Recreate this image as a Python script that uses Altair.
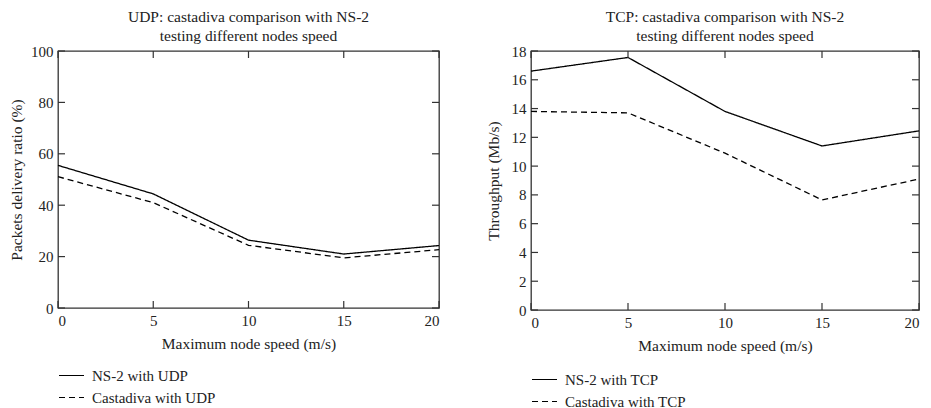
import altair as alt
import pandas as pd

speeds = [0, 5, 10, 15, 20]
udp_ns2 = [55.5, 44.4, 26.4, 21.0, 24.3]
udp_cast = [51.1, 41.0, 24.4, 19.5, 22.7]
tcp_ns2 = [16.6, 17.55, 13.8, 11.4, 12.45]
tcp_cast = [13.8, 13.7, 10.9, 7.65, 9.1]

x_ticks = [0, 5, 10, 15, 20]
udp_y_ticks = [0, 20, 40, 60, 80, 100]
tcp_y_ticks = [0, 2, 4, 6, 8, 10, 12, 14, 16, 18]

udp_series = ["NS-2 with UDP", "Castadiva with UDP"]
tcp_series = ["NS-2 with TCP", "Castadiva with TCP"]

FONT = "Liberation Serif"
TXT = "#222222"
FRAME = "#333333"
TICK = 7


def panel(series_names, a, b, yticks, ymax, title_lines, ytitle, W, H, legend_y, ytitle_pad):
    df = pd.DataFrame({
        "speed": speeds * 2,
        "value": a + b,
        "series": [series_names[0]] * len(speeds) + [series_names[1]] * len(speeds),
    })
    xs = alt.Scale(domain=[0, 20], nice=False, zero=False)
    ys = alt.Scale(domain=[0, ymax], nice=False)
    xaxis = alt.Axis(values=x_ticks, title="Maximum node speed (m/s)", domain=False, ticks=False,
                     labelPadding=5, titlePadding=8, grid=False, labelOverlap=False)
    yaxis = alt.Axis(values=yticks, title=ytitle, domain=False, ticks=False,
                     labelPadding=5, titlePadding=ytitle_pad, grid=False, labelOverlap=False)
    lines = alt.Chart(df).mark_line(color="black", strokeWidth=1.3).encode(
        x=alt.X("speed:Q", scale=xs, axis=xaxis),
        y=alt.Y("value:Q", scale=ys, axis=yaxis),
        strokeDash=alt.StrokeDash(
            "series:N",
            scale=alt.Scale(domain=series_names, range=[[1, 0], [6, 4]]),
            legend=alt.Legend(
                title=None, orient="none", legendX=0, legendY=legend_y, padding=0,
                symbolType="stroke", symbolSize=625, symbolStrokeColor="black",
                symbolStrokeWidth=1.2, labelFont=FONT, labelFontSize=15,
                labelColor=TXT, labelOffset=7, rowPadding=-2, labelLimit=300,
            ),
        ),
        detail="series:N",
    )
    xt = pd.DataFrame({"speed": x_ticks})
    yt = pd.DataFrame({"value": yticks})
    bottom = alt.Chart(xt).mark_rule(color=FRAME, strokeWidth=1.2).encode(
        x=alt.X("speed:Q", scale=xs, axis=xaxis), y=alt.value(H), y2=alt.value(H - TICK))
    top = alt.Chart(xt).mark_rule(color=FRAME, strokeWidth=1.2).encode(
        x=alt.X("speed:Q", scale=xs, axis=xaxis), y=alt.value(0), y2=alt.value(TICK))
    left = alt.Chart(yt).mark_rule(color=FRAME, strokeWidth=1.2).encode(
        y=alt.Y("value:Q", scale=ys, axis=yaxis), x=alt.value(0), x2=alt.value(TICK))
    right = alt.Chart(yt).mark_rule(color=FRAME, strokeWidth=1.2).encode(
        y=alt.Y("value:Q", scale=ys, axis=yaxis), x=alt.value(W), x2=alt.value(W - TICK))
    return alt.layer(lines, bottom, top, left, right).properties(
        width=W, height=H,
        title=alt.TitleParams(title_lines, font=FONT, fontSize=15.5, fontWeight="normal",
                              color=TXT, anchor="middle", offset=0, lineHeight=19),
    )


udp = panel(udp_series, udp_ns2, udp_cast, udp_y_ticks, 100,
            ["UDP: castadiva comparison with NS-2", "testing different nodes speed"],
            "Packets delivery ratio (%)", 381, 257, 311, 6)
tcp = panel(tcp_series, tcp_ns2, tcp_cast, tcp_y_ticks, 18,
            ["TCP: castadiva comparison with NS-2", "testing different nodes speed"],
            "Throughput (Mb/s)", 388, 259, 315, 10)

chart = alt.hconcat(udp, tcp, spacing=42).resolve_scale(strokeDash="independent").properties(
    padding=0,
).configure(
    background="white",
).configure_view(stroke=FRAME, strokeWidth=1.3).configure_axis(
    labelFont=FONT, labelFontSize=15, labelColor=TXT, titleFont=FONT, titleFontSize=15.5,
    titleFontWeight="normal", titleColor=TXT,
)

chart.save("out.html", embed_options={"renderer": "svg", "actions": False})
